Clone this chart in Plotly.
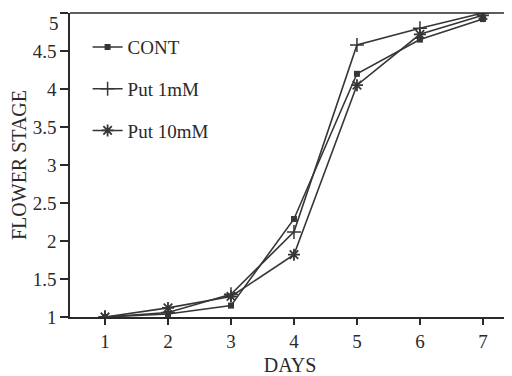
import plotly.graph_objects as go

days = [1, 2, 3, 4, 5, 6, 7]
cont = [1.0, 1.04, 1.15, 2.29, 4.2, 4.65, 4.92]
put_1mm = [1.0, 1.06, 1.3, 2.12, 4.58, 4.8, 5.0]
put_10mm = [1.0, 1.12, 1.27, 1.82, 4.05, 4.72, 4.97]
y_ticks = [1, 1.5, 2, 2.5, 3, 3.5, 4, 4.5, 5]
y_tick_labels = ["1", "1.5", "2", "2.5", "3", "3.5", "4", "4.5", "5"]
series_names = ["CONT", "Put 1mM", "Put 10mM"]

line_col = "#363636"
axis_col = "#2a2a2a"
font_fam = "Liberation Serif"

fig = go.Figure()
fig.add_trace(go.Scatter(x=days, y=cont, name=series_names[0], mode="lines+markers",
                         legendgroup="a",
                         line=dict(color=line_col, width=1.6),
                         marker=dict(symbol="square", size=6, color=line_col)))
fig.add_trace(go.Scatter(x=days, y=put_1mm, name=series_names[1], mode="lines+markers",
                         legendgroup="b",
                         line=dict(color=line_col, width=1.6),
                         marker=dict(symbol="cross-thin-open", size=10,
                                     line=dict(color=line_col, width=1.5))))
fig.add_trace(go.Scatter(x=days, y=put_10mm, name=series_names[2], mode="lines+markers",
                         legendgroup="c",
                         line=dict(color=line_col, width=1.6),
                         marker=dict(symbol="asterisk-open", size=10,
                                     line=dict(color=line_col, width=1.8))))

# top tick label would be clipped at the page edge: draw it as an annotation nudged down
shown_tick_text = y_tick_labels[:-1] + [""]

fig.update_layout(
    width=504, height=368,
    margin=dict(l=62, r=2, t=5, b=59),
    paper_bgcolor="white", plot_bgcolor="white",
    font=dict(family=font_fam, size=19, color="#2a2a2a"),
    showlegend=True,
    legend=dict(x=0.04, y=0.95, xanchor="left", yanchor="top",
                bgcolor="rgba(0,0,0,0)", font=dict(size=19, family=font_fam),
                itemwidth=30, tracegroupgap=14),
    xaxis=dict(range=[0.444, 7.43], tickmode="array", tickvals=days,
               ticktext=[str(d) for d in days], automargin=False,
               showline=True, linecolor=axis_col, linewidth=1.5, mirror=False,
               ticks="outside", ticklen=6, tickcolor=axis_col, tickwidth=1.5,
               showgrid=False, zeroline=False, ticklabeloverflow="allow",
               title=dict(text="DAYS", font=dict(size=20), standoff=12)),
    yaxis=dict(range=[1, 5], tickmode="array", tickvals=y_ticks, ticktext=shown_tick_text,
               showline=True, linecolor=axis_col, linewidth=1.5, mirror=False, automargin=False,
               ticks="outside", ticklen=8, tickcolor=axis_col, tickwidth=1.5,
               showgrid=False, zeroline=False, ticklabeloverflow="allow",
               title=dict(text="FLOWER STAGE", font=dict(size=20), standoff=8)),
)
fig.add_annotation(x=0, xref="paper", y=y_ticks[-1], yref="y", text=y_tick_labels[-1],
                   showarrow=False, xanchor="right", yanchor="top", xshift=-9, yshift=2,
                   font=dict(size=19, family=font_fam, color="#2a2a2a"))
fig.add_shape(type="line", xref="paper", yref="paper", x0=0, x1=1, y0=1, y1=1,
              line=dict(color=axis_col, width=1.5))

fig.write_html("out.html")
